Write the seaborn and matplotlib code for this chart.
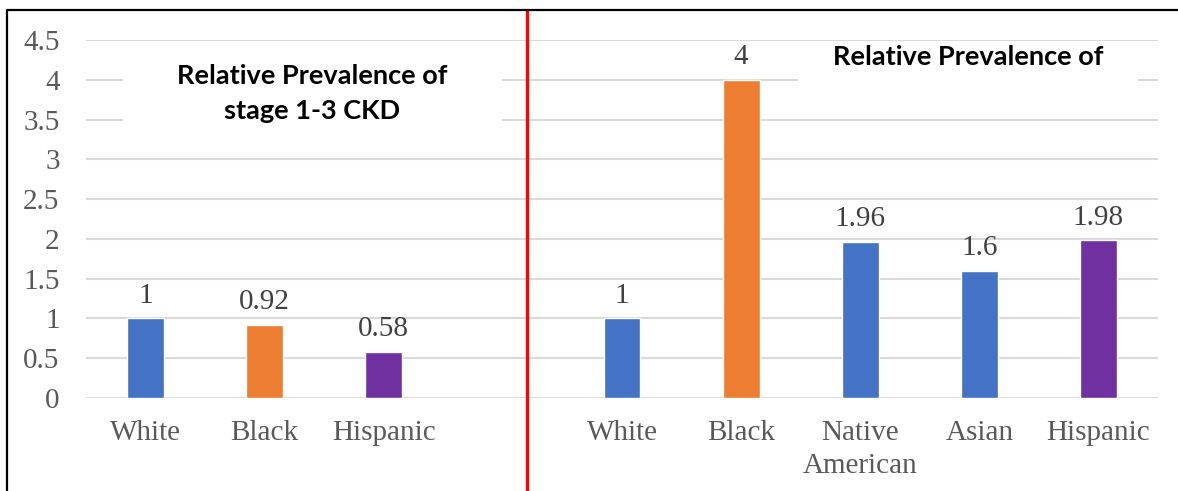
import matplotlib
matplotlib.use("Agg")
import matplotlib.pyplot as plt
from matplotlib.lines import Line2D
from matplotlib.patches import Rectangle
from matplotlib.transforms import blended_transform_factory
import seaborn as sns
import pandas as pd

# Stage 1-3 CKD panel
left_groups = ["White", "Black", "Hispanic"]
left_values = [1, 0.92, 0.58]
left_colors = ["#4472C4", "#ED7D31", "#7030A0"]

# Second panel
right_groups = ["White", "Black", "Native\nAmerican", "Asian", "Hispanic"]
right_values = [1, 4, 1.96, 1.6, 1.98]
right_colors = ["#4472C4", "#ED7D31", "#4472C4", "#4472C4", "#7030A0"]

y_ticks = [0, 0.5, 1, 1.5, 2, 2.5, 3, 3.5, 4, 4.5]
title_left = "Relative Prevalence of\nstage 1-3 CKD"
title_right = "Relative Prevalence of"

# One categorical axis with an empty slot separating the two panels
slots = [f"L{i}" for i in range(len(left_groups))] + ["gap"] + \
        [f"R{i}" for i in range(len(right_groups))]
tick_text = left_groups + [""] + right_groups
df = pd.DataFrame({
    "slot": [f"L{i}" for i in range(len(left_groups))] + [f"R{i}" for i in range(len(right_groups))],
    "value": left_values + right_values,
})
palette = dict(zip(df["slot"], left_colors + right_colors))

sns.set_theme(style="white")
plt.rcParams["font.family"] = ["Liberation Serif", "DejaVu Serif"]

W, H = 1178, 491
fig = plt.figure(figsize=(W / 100, H / 100), dpi=100)
ax = fig.add_axes([86 / W, 1 - 398 / H, (1158 - 86) / W, (398 - 40) / H])

sns.barplot(data=df, x="slot", y="value", hue="slot", order=slots,
            palette=palette, width=0.31, legend=False, saturation=1,
            ax=ax, zorder=3)

for cont in ax.containers:
    ax.bar_label(cont, labels=[f"{v:g}" for v in cont.datavalues],
                 padding=7, fontsize=21, color="#404040",
                 family=["Liberation Serif"])

ax.set_ylim(0, 4.5)
ax.set_xlim(-0.5, len(slots) - 0.5)
ax.set_yticks(y_ticks)
ax.set_yticklabels([f"{t:g}" for t in y_ticks], fontsize=21, color="#595959")
ax.set_xticks(range(len(slots)))
ax.set_xticklabels(tick_text, fontsize=21, color="#595959", linespacing=1.35)
ax.tick_params(axis="x", length=0, pad=16)
ax.tick_params(axis="y", length=0, pad=19)
ax.set_xlabel("")
ax.set_ylabel("")
for s in ax.spines.values():
    s.set_visible(False)
ax.set_axisbelow(True)
ax.yaxis.grid(True, color="#d9d9d9", linewidth=1.5, zorder=0)
ax.xaxis.grid(False)

# White text boxes over the gridlines
fpx = fig.transFigure
def px_box(x0, y0, x1, y1):
    ax.add_patch(Rectangle((x0 / W, 1 - y1 / H), (x1 - x0) / W, (y1 - y0) / H,
                           transform=fpx, facecolor="white", edgecolor="none",
                           zorder=1, clip_on=False))
px_box(123, 58, 502, 126)
px_box(798, 58, 1138, 101)

title_font = dict(family=["Lato", "DejaVu Sans"], fontweight="bold",
                  fontsize=19.5, color="black")
fig.text(312 / W, 1 - 94 / H, title_left, ha="center", va="center",
         linespacing=1.55, zorder=5, **title_font)
fig.text(968 / W, 1 - 57 / H, title_right, ha="center", va="center",
         zorder=5, **title_font)

# Red divider between the panels
div_tr = blended_transform_factory(ax.transData, fig.transFigure)
fig.add_artist(Line2D([3.2, 3.2], [0, 1 - 10 / H], transform=div_tr,
                      color="#FF0000", linewidth=2.4))

# Outer frame (left and top edges)
fig.add_artist(Line2D([7 / W, 7 / W, 1], [0, 1 - 10 / H, 1 - 10 / H],
                      transform=fpx, color="black", linewidth=1.6))

fig.savefig("out.png", dpi=100, facecolor="white")
